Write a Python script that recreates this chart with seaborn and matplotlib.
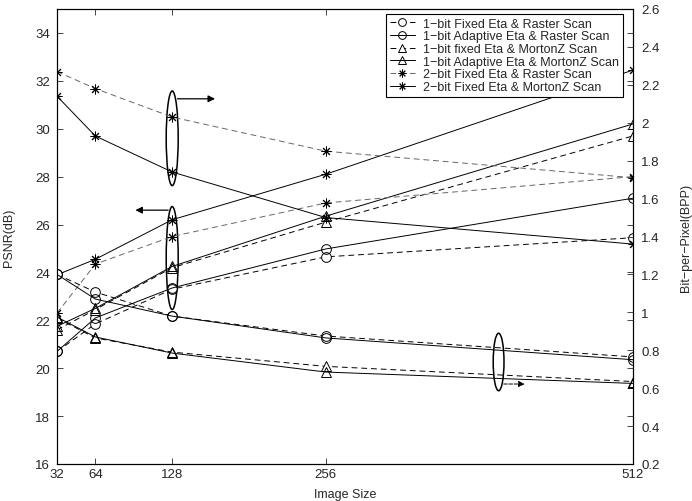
import matplotlib
matplotlib.use('Agg')
import matplotlib.pyplot as plt
from matplotlib.patches import Ellipse
import seaborn as sns

# %% Data
image_size = [32, 64, 128, 256, 512]

# PSNR (dB), left axis
psnr_1bit_fixed_raster = [20.7, 21.85, 23.3, 24.65, 25.45]
psnr_1bit_adapt_raster = [20.7, 22.1, 23.35, 24.98, 27.1]
psnr_1bit_fixed_morton = [21.6, 22.45, 24.2, 26.1, 29.7]
psnr_1bit_adapt_morton = [21.75, 22.5, 24.25, 26.35, 30.2]
psnr_2bit_fixed_raster = [22.3, 24.35, 25.5, 26.9, 28.0]
psnr_2bit_fixed_morton = [23.9, 24.55, 26.2, 28.1, 32.45]

# Bit-per-pixel, right axis
bpp_1bit_fixed_raster = [1.20, 1.107, 0.98, 0.875, 0.765]
bpp_1bit_adapt_raster = [1.20, 1.07, 0.98, 0.865, 0.75]
bpp_1bit_fixed_morton = [0.97, 0.865, 0.79, 0.715, 0.635]
bpp_1bit_adapt_morton = [0.975, 0.87, 0.785, 0.685, 0.625]
bpp_2bit_fixed_raster = [2.27, 2.18, 2.03, 1.85, 1.71]
bpp_2bit_fixed_morton = [2.14, 1.93, 1.74, 1.50, 1.36]

labels = ['1\u2212bit Fixed Eta & Raster Scan',
          '1\u2212bit Adaptive Eta & Raster Scan',
          '1\u2212bit fixed Eta & MortonZ Scan',
          '1\u2212bit Adaptive Eta & MortonZ Scan',
          '2\u2212bit Fixed Eta & Raster Scan',
          '2\u2212bit Fixed Eta & MortonZ Scan']

psnr = [psnr_1bit_fixed_raster, psnr_1bit_adapt_raster, psnr_1bit_fixed_morton,
        psnr_1bit_adapt_morton, psnr_2bit_fixed_raster, psnr_2bit_fixed_morton]
bpp = [bpp_1bit_fixed_raster, bpp_1bit_adapt_raster, bpp_1bit_fixed_morton,
       bpp_1bit_adapt_morton, bpp_2bit_fixed_raster, bpp_2bit_fixed_morton]

# style per series: marker, face colour, line style, line colour
dash = (0, (6, 4))
styles = [('o', 'white', dash, 'black'),
          ('o', 'none', '-', 'black'),
          ('^', 'white', dash, 'black'),
          ('^', 'none', '-', 'black'),
          ((8, 2, 0), 'none', dash, '0.4'),
          ((8, 2, 0), 'none', '-', 'black')]

# %% Style
sns.set_style('ticks')
plt.rcParams['font.family'] = ['Liberation Sans', 'DejaVu Sans']
plt.rcParams['font.size'] = 9
plt.rcParams['xtick.direction'] = 'in'
plt.rcParams['ytick.direction'] = 'in'

fig = plt.figure(figsize=(6.92, 5.02), dpi=100)
ax = fig.add_axes([57/692, 37/502, 576/692, 455/502])
ax2 = ax.twinx()

for i in range(len(labels)):
    m, mfc, ls, c = styles[i]
    kw = dict(color=c, linestyle=ls, linewidth=0.7, marker=m, markersize=7,
              markerfacecolor=mfc, markeredgecolor='black', markeredgewidth=0.7,
              legend=False)
    sns.lineplot(x=image_size, y=psnr[i], ax=ax, **kw)
    sns.lineplot(x=image_size, y=bpp[i], ax=ax2, **kw)

# %% Axes
ax.set_xlim(32, 512)
ax.set_ylim(16, 35)
ax2.set_ylim(0.2, 2.6)
ax.set_xticks(image_size)
ax.set_yticks(range(16, 35, 2))
ax2.set_yticks([0.2, 0.4, 0.6, 0.8, 1, 1.2, 1.4, 1.6, 1.8, 2, 2.2, 2.4, 2.6])
ax2.set_yticklabels(['0.2', '0.4', '0.6', '0.8', '1', '1.2', '1.4', '1.6', '1.8',
                     '2', '2.2', '2.4', '2.6'])

ax.tick_params(axis='x', top=True, length=4, width=0.6, pad=3, labelsize=9.5)
ax.tick_params(axis='y', right=True, length=4, width=0.6, pad=5, labelsize=9.5)
ax2.tick_params(axis='y', length=4, width=0.6, pad=6, labelsize=9.5)
for a in (ax, ax2):
    for s in a.spines.values():
        s.set_linewidth(0.8)
        s.set_color('black')

ax.set_xlabel('Image Size', fontsize=9)
ax.set_ylabel('PSNR(dB)', fontsize=9)
ax2.set_ylabel('Bit\u2212per\u2212Pixel(BPP)', fontsize=9)
ax.xaxis.set_label_coords(0.5, -0.052)
ax.yaxis.set_label_coords(-0.073, 0.5)
ax2.yaxis.set_label_coords(1.082, 0.5)

# %% Ellipses and arrows pointing at the axis each group belongs to
arrow = dict(arrowstyle='-|>', color='black', lw=0.9, mutation_scale=10)
ax.add_patch(Ellipse((128, 29.6), 10, 3.95, fill=False, lw=1.1, ec='black'))
ax.annotate('', xy=(166, 31.25), xytext=(130, 31.25), arrowprops=arrow)
ax.add_patch(Ellipse((128, 24.6), 10, 4.3, fill=False, lw=1.1, ec='black'))
ax.annotate('', xy=(95, 26.6), xytext=(127, 26.6), arrowprops=arrow)
ax.add_patch(Ellipse((400, 20.26), 9, 2.4, fill=False, lw=1.1, ec='black'))
ax.annotate('', xy=(424, 19.34), xytext=(402, 19.34),
            arrowprops=dict(arrowstyle='-|>', color='black', lw=0.7, ls='--',
                            mutation_scale=9))

# %% Legend
handles = ax.lines[:len(labels)]
leg = ax2.legend(handles, labels, loc='upper right',
                 bbox_to_anchor=(623/692, 1 - 15/502),
                 bbox_transform=fig.transFigure, borderaxespad=0,
                 fontsize=9, labelspacing=0.05, handlelength=2.0,
                 handletextpad=0.7, borderpad=0.3, markerscale=0.8,
                 fancybox=False, framealpha=1, edgecolor='black')
leg.get_frame().set_linewidth(0.8)

fig.savefig('out.png', dpi=100)
